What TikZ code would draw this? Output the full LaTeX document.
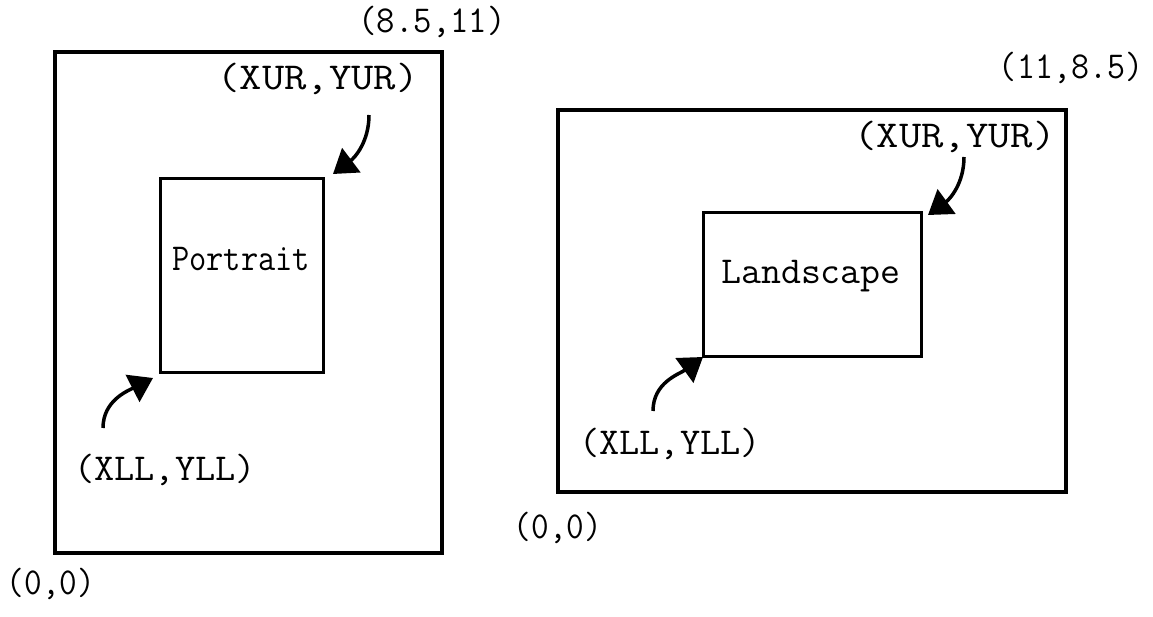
\documentclass[tikz,border=0pt]{standalone}
\usepackage{graphicx}
\usetikzlibrary{arrows.meta}
\begin{document}
\begin{tikzpicture}[x=1pt,y=1pt]
\tikzset{
  pagebox/.style={draw, line width=3.5pt, inner sep=0pt},
  areabox/.style={draw, line width=3pt, inner sep=0pt},
  lbl/.style={font=\fontsize{38}{42}\selectfont\ttfamily, inner sep=0pt, anchor=base},
  ptr/.style={line width=3.5pt, -{Triangle[length=23pt,width=30pt]}},
}
\useasboundingbox (0,0) rectangle (1153,616);
% portrait
\node[pagebox, minimum width=387pt, minimum height=501pt] (pageP) at (248.5,313.5) {};
\node[areabox, minimum width=163pt, minimum height=194pt] (areaP) at (241.5,340) {};
\node[lbl] (txtP) at (241,345) {\scalebox{0.88}[1]{Portrait}};
\node[lbl] (urP) at (432,583) {\scalebox{0.94}[1]{(8.5,11)}};
\node[lbl] (xurP) at (318,526) {\scalebox{1.14}[1]{(XUR,YUR)}};
\node[lbl] (xllP) at (165,136) {\scalebox{1.03}[1]{(XLL,YLL)}};
\node[lbl] (llP) at (51,22) {\scalebox{0.9}[1]{(0,0)}};
\coordinate (sUP) at (369,501);
\coordinate (tUP) at (333,442);
\coordinate (sLP) at (103,188);
\coordinate (tLP) at (153,238);
\draw[ptr] (sUP) to[out=270,in=37] (tUP);
\draw[ptr] (sLP) to[out=90,in=207] (tLP);
% landscape
\node[pagebox, minimum width=508pt, minimum height=382pt] (pageL) at (812,315) {};
\node[areabox, minimum width=218pt, minimum height=144pt] (areaL) at (812,331) {};
\node[lbl] (txtL) at (811,332) {\scalebox{1.02}[1]{Landscape}};
\node[lbl] (urL) at (1071,537) {\scalebox{0.92}[1]{(11,8.5)}};
\node[lbl] (xurL) at (955,468) {\scalebox{1.14}[1]{(XUR,YUR)}};
\node[lbl] (xllL) at (670,162) {\scalebox{1.03}[1]{(XLL,YLL)}};
\node[lbl] (llL) at (558,78) {\scalebox{0.9}[1]{(0,0)}};
\coordinate (sUL) at (964,459);
\coordinate (tUL) at (928,401);
\coordinate (sLL) at (653,205);
\coordinate (tLL) at (703,259);
\draw[ptr] (sUL) to[out=270,in=36] (tUL);
\draw[ptr] (sLL) to[out=90,in=216] (tLL);
\end{tikzpicture}
\end{document}
